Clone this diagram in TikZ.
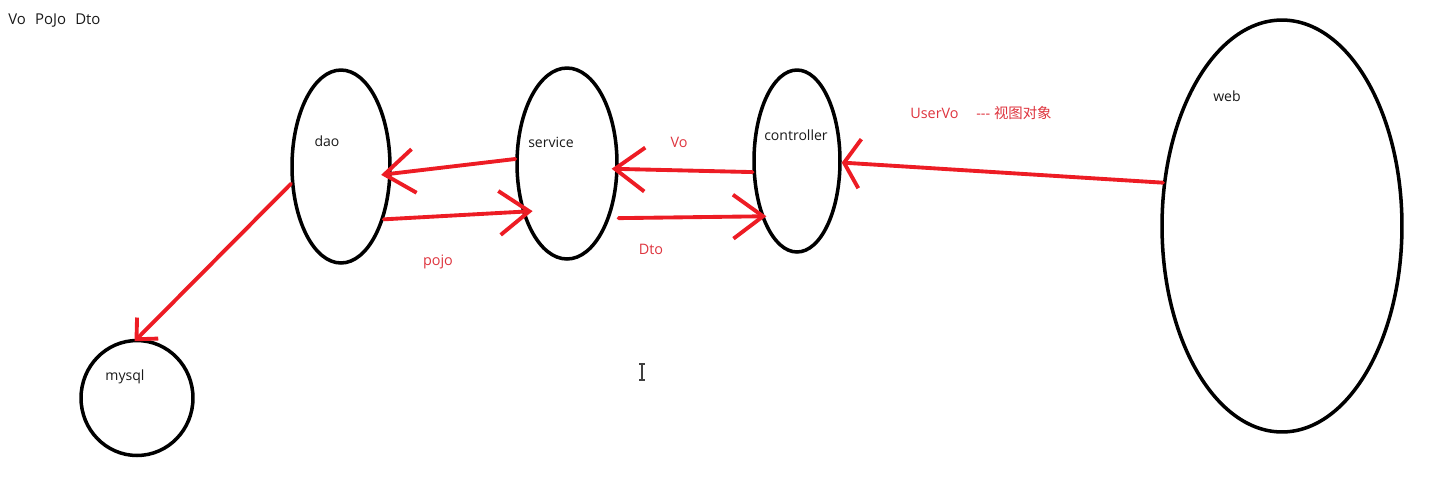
\documentclass[tikz,border=0pt]{standalone}
\usepackage{fontspec}
\setmainfont{Open Sans}
\newfontfamily\cjk{Noto Sans CJK SC}
\usetikzlibrary{shapes.geometric,arrows.meta}
\definecolor{pen}{RGB}{237,28,36}
\definecolor{pentext}{RGB}{222,52,62}
\definecolor{ink}{RGB}{25,25,25}
\begin{document}
\begin{tikzpicture}[x=0.02cm,y=-0.02cm,
	layer/.style={draw=black, ellipse, line width=2pt, inner sep=0pt},
	tag/.style={text=ink, inner sep=0pt, font=\fontsize{8}{9}\selectfont},
	redtag/.style={text=pentext, inner sep=0pt, font=\fontsize{8.2}{9}\selectfont},
	flow/.style={draw=pen, line width=2.2pt, line cap=round, -{Straight Barb[length=17pt,width=25pt]}}]
			\useasboundingbox (0,0) rectangle (1448,498);
			\node[tag, anchor=west, font=\fontsize{8.5}{10}\selectfont] (legend) at (8,21) {Vo\hspace{3pt} PoJo\hspace{3pt} Dto};
			\node[layer, minimum width=1.96cm, minimum height=3.86cm] (dao) at (341,166.5) {};
			\node[layer, minimum width=2cm, minimum height=3.82cm] (service) at (567,163.5) {};
			\node[layer, minimum width=1.72cm, minimum height=3.64cm] (controller) at (797,161) {};
			\node[layer, minimum width=4.8cm, minimum height=8.24cm] (web) at (1282,226) {};
			\node[layer, minimum width=2.24cm, minimum height=2.3cm] (mysql) at (137,398) {};
			\node[tag] (daolbl) at (327,141) {dao};
			\node[tag] (servicelbl) at (551,142) {service};
			\node[tag] (controllerlbl) at (796,135) {controller};
			\node[tag] (weblbl) at (1227,96) {web};
			\node[tag] (mysqllbl) at (125,377) {mysql};
			\node[redtag] (pojo) at (438,262) {pojo};
			\node[redtag] (dto) at (651,249) {Dto};
			\node[redtag] (vo) at (679,142) {Vo};
			\node[redtag, anchor=west] (uservo) at (910,113) {UserVo};
			\node[redtag, anchor=west] (viewobj) at (976,113) {-{}-{}- {\cjk 视图对象}};
			\draw[flow, shorten >=-6pt] (service.175) -- (dao.-8);
			\draw[flow, shorten >=-6pt] (dao.-51) -- (service.-133);
			\draw[flow, shorten >=-4pt] (controller.194) -- (service.-6);
			\draw[flow, shorten <=5pt, shorten >=-3pt] (service.-52) -- (controller.-123);
			\draw[flow, -{Straight Barb[length=9pt,width=28pt]}] (web.160) -- (controller.-2);
			\draw[flow, -{Straight Barb[length=9pt,width=17pt]}, shorten >=-2pt] (dao.199) -- (mysql.north);
			\draw[darkgray, line width=0.6pt] (642,364) -- (642,380) (639,364) -- (645,364) (639,380) -- (645,380);
\end{tikzpicture}
\end{document}
